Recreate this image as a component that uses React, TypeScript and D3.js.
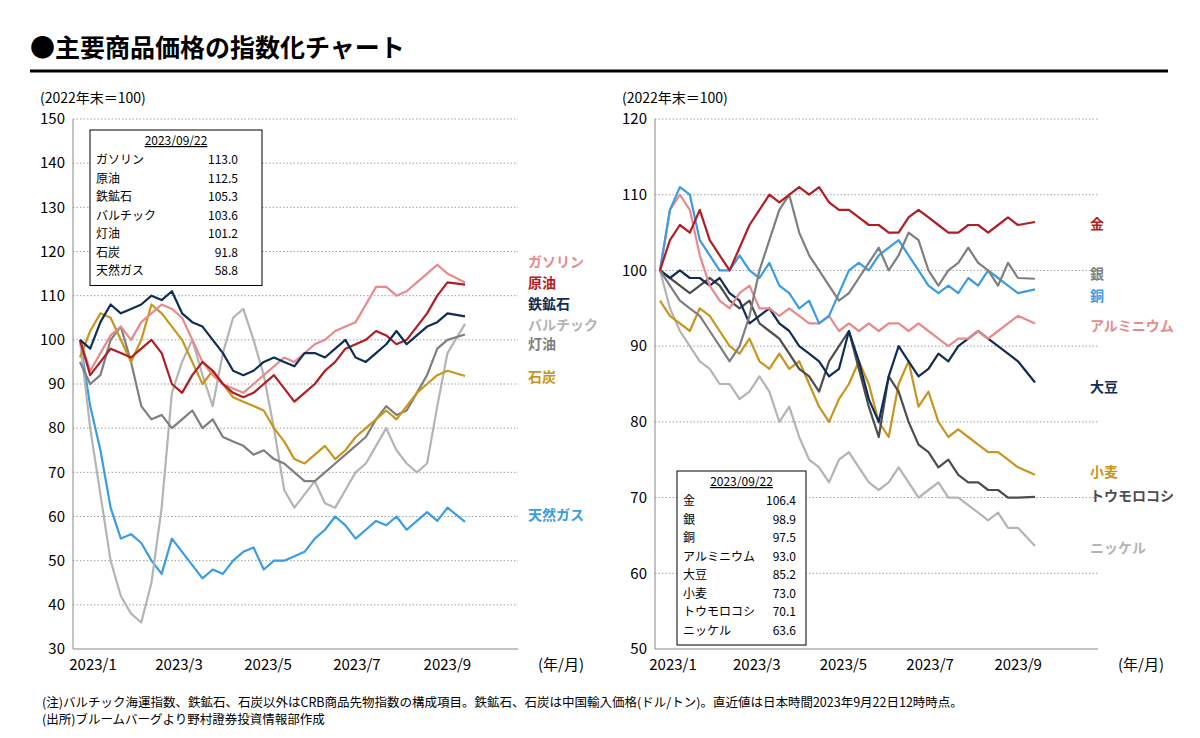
import * as d3 from 'd3';

// weekly series, 2023/1/1 .. 2023/9/22
const gasoline = [100,93,97,101,103,100,104,106,108,107,105,100,95,92,90,89,88,90,92,94,96,95,97,99,100,102,103,104,108,112,112,110,111,113,115,117,115,113];
const crude = [100,92,95,98,97,96,98,100,97,90,88,92,95,93,90,88,87,88,90,92,89,86,88,90,93,95,98,99,100,102,101,99,100,103,106,110,113,112.5];
const ironOre = [100,98,104,108,106,107,108,110,109,111,106,104,103,100,97,93,92,93,95,96,95,94,97,97,96,98,100,96,95,97,99,102,99,101,103,104,106,105.3];
const baltic = [100,80,65,50,42,38,36,45,62,88,95,100,92,85,97,105,107,100,92,80,66,62,65,68,63,62,66,70,72,76,80,75,72,70,72,85,97,103.6];
const heatingOil = [95,90,92,100,103,95,85,82,83,80,82,84,80,82,78,77,76,74,75,73,72,70,68,68,70,72,74,76,78,82,85,83,84,88,92,98,100,101.2];
const coal = [96,102,106,105,100,95,100,108,106,103,100,95,90,93,90,87,86,85,84,80,77,73,72,74,76,73,75,78,80,82,84,82,85,88,90,92,93,91.8];
const natGas = [100,85,75,62,55,56,54,50,47,55,52,49,46,48,47,50,52,53,48,50,50,51,52,55,57,60,58,55,57,59,58,60,57,59,61,59,62,58.8];

const gold = [100,104,106,105,108,104,102,100,103,106,108,110,109,110,111,110,111,109,108,108,107,106,106,105,105,107,108,107,106,105,105,106,106,105,106,107,106,106.4];
const silver = [100,98,96,95,94,92,90,88,90,94,100,104,108,110,105,102,100,98,96,97,99,101,103,100,102,105,104,100,98,100,101,103,101,100,98,101,99,98.9];
const copper = [100,108,111,110,104,102,100,100,102,100,99,101,98,97,95,96,93,94,97,100,101,100,102,103,104,102,100,98,97,98,97,99,98,100,99,98,97,97.5];
const aluminium = [100,108,110,108,102,98,96,95,97,98,95,95,94,95,94,93,93,94,92,93,92,93,92,93,93,92,93,92,91,90,91,91,92,91,92,93,94,93.0];
const soybean = [100,99,100,99,99,98,99,97,96,93,94,95,93,92,90,89,88,86,87,92,88,83,80,86,90,88,86,87,89,88,90,91,92,91,90,89,88,85.2];
const wheat = [96,94,93,92,95,94,92,90,89,91,88,87,89,87,88,85,82,80,83,85,88,85,80,78,85,88,82,84,80,78,79,78,77,76,76,75,74,73.0];
const corn = [100,99,98,97,98,99,98,96,95,96,93,92,91,89,87,86,84,88,90,92,87,82,78,86,84,80,77,76,74,75,73,72,72,71,71,70,70,70.1];
const nickel = [100,95,92,90,88,87,85,85,83,84,86,84,80,82,78,75,74,72,75,76,74,72,71,72,74,72,70,71,72,70,70,69,68,67,68,66,66,63.6];

const leftTicks = [30,40,50,60,70,80,90,100,110,120,130,140,150];
const rightTicks = [50,60,70,80,90,100,110,120];
const monthLabels = ['2023/1','2023/3','2023/5','2023/7','2023/9'];

const C = { pink: '#e88a8c', red: '#b01e23', navy: '#0f2d55', lgray: '#b4b4b4', gray: '#7f7f7f', dgray: '#4d4d4d', gold: '#c8961e', blue: '#3b9ce2' };

const leftSeries = [
  { name: 'ガソリン', v: gasoline, c: C.pink, ly: 262 },
  { name: '原油', v: crude, c: C.red, ly: 283 },
  { name: '鉄鉱石', v: ironOre, c: C.navy, ly: 304 },
  { name: 'バルチック', v: baltic, c: C.lgray, ly: 325 },
  { name: '灯油', v: heatingOil, c: C.gray, ly: 344 },
  { name: '石炭', v: coal, c: C.gold, ly: 377 },
  { name: '天然ガス', v: natGas, c: C.blue, ly: 515 },
];
const leftDraw = ['天然ガス','バルチック','灯油','石炭','ガソリン','原油','鉄鉱石'];
const rightSeries = [
  { name: '金', v: gold, c: C.red, ly: 224 },
  { name: '銀', v: silver, c: C.gray, ly: 274 },
  { name: '銅', v: copper, c: C.blue, ly: 296 },
  { name: 'アルミニウム', v: aluminium, c: C.pink, ly: 326 },
  { name: '大豆', v: soybean, c: C.navy, ly: 387 },
  { name: '小麦', v: wheat, c: C.gold, ly: 472 },
  { name: 'トウモロコシ', v: corn, c: C.dgray, ly: 496 },
  { name: 'ニッケル', v: nickel, c: C.lgray, ly: 548 },
];
const rightDraw = ['ニッケル','小麦','トウモロコシ','大豆','アルミニウム','銅','銀','金'];

const start = new Date(2023, 0, 1);
const dates = gasoline.map((_, i) => i === gasoline.length - 1 ? new Date(2023, 8, 22) : d3.timeDay.offset(start, i * 7));
const font = '"Noto Sans CJK JP", "Noto Sans", sans-serif';

function Panel({ x0, x1, dataX0, dataX1, top, bottom, domain, ticks, series, order, labelX, boxX, boxY, boxW, valInset }: any) {
  const x = d3.scaleTime().domain([start, new Date(2023, 8, 22)]).range([dataX0, dataX1]);
  const y = d3.scaleLinear().domain(domain).range([bottom, top]);
  const line = d3.line<number>().x((_, i) => x(dates[i])).y(d => y(d));
  const byName: any = Object.fromEntries(series.map((s: any) => [s.name, s]));
  const rowH = 18.5;
  return (
    <g fontFamily={font}>
      {ticks.map((t: number) => (
        <g key={t}>
          {t !== domain[0] && <line x1={x0} x2={x1} y1={y(t)} y2={y(t)} stroke="#888" strokeDasharray="1.5,2" strokeWidth={0.8} />}
          <text x={x0 - 8} y={y(t)} dy="0.35em" textAnchor="end" fontSize={15}>{t}</text>
        </g>
      ))}
      <line x1={x0} x2={x0} y1={top} y2={bottom} stroke="#888" />
      <line x1={x0} x2={x1} y1={bottom} y2={bottom} stroke="#888" />
      {monthLabels.map((m, i) => (
        <text key={m} x={x(new Date(2023, i * 2, 1)) + 13} y={bottom + 21} textAnchor="middle" fontSize={15}>{m}</text>
      ))}
      <text x={x1 + 20} y={bottom + 21} fontSize={15}>(年/月)</text>
      <text x={x0 - 33} y={top - 16} fontSize={14}>(2022年末＝100)</text>
      {order.map((n: string) => (
        <path key={n} d={line(byName[n].v) || ''} fill="none" stroke={byName[n].c} strokeWidth={2.2} strokeLinejoin="round" />
      ))}
      {series.map((s: any) => (
        <text key={s.name} x={labelX} y={s.ly} dy="0.35em" fontSize={14} fontWeight="bold" fill={s.c}>{s.name}</text>
      ))}
      <rect x={boxX} y={boxY} width={boxW} height={26 + series.length * rowH} fill="#fff" stroke="#000" />
      <text x={boxX + boxW / 2} y={boxY + 15} textAnchor="middle" fontSize={12} textDecoration="underline">2023/09/22</text>
      {series.map((s: any, i: number) => (
        <g key={s.name} fontSize={12}>
          <text x={boxX + 6} y={boxY + 34 + i * rowH}>{s.name}</text>
          <text x={boxX + boxW - valInset} y={boxY + 34 + i * rowH} textAnchor="end">{s.v[s.v.length - 1].toFixed(1)}</text>
        </g>
      ))}
    </g>
  );
}

export default function App() {
  return (
    <svg width={1200} height={738} style={{ display: 'block', margin: -8, background: '#fff' }}>
      <text x={30} y={57} fontFamily={font} fontSize={25} fontWeight="bold">●主要商品価格の指数化チャート</text>
      <line x1={30} x2={1168} y1={71} y2={71} stroke="#000" strokeWidth={3} />
      <Panel x0={73} x1={518} dataX0={80} dataX1={465} top={119} bottom={649} domain={[30, 150]} ticks={leftTicks}
        series={leftSeries} order={leftDraw} labelX={528} boxX={90} boxY={130} boxW={172} valInset={24} />
      <Panel x0={655} x1={1098} dataX0={660} dataX1={1035} top={119} bottom={649} domain={[50, 120]} ticks={rightTicks}
        series={rightSeries} order={rightDraw} labelX={1090} boxX={677} boxY={471} boxW={129} valInset={10} />
      <g fontFamily={font} fontSize={12.5}>
        <text x={42} y={707}>(注)バルチック海運指数、鉄鉱石、石炭以外はCRB商品先物指数の構成項目。鉄鉱石、石炭は中国輸入価格(ドル/トン)。直近値は日本時間2023年9月22日12時時点。</text>
        <text x={42} y={724}>(出所)ブルームバーグより野村證券投資情報部作成</text>
      </g>
    </svg>
  );
}
